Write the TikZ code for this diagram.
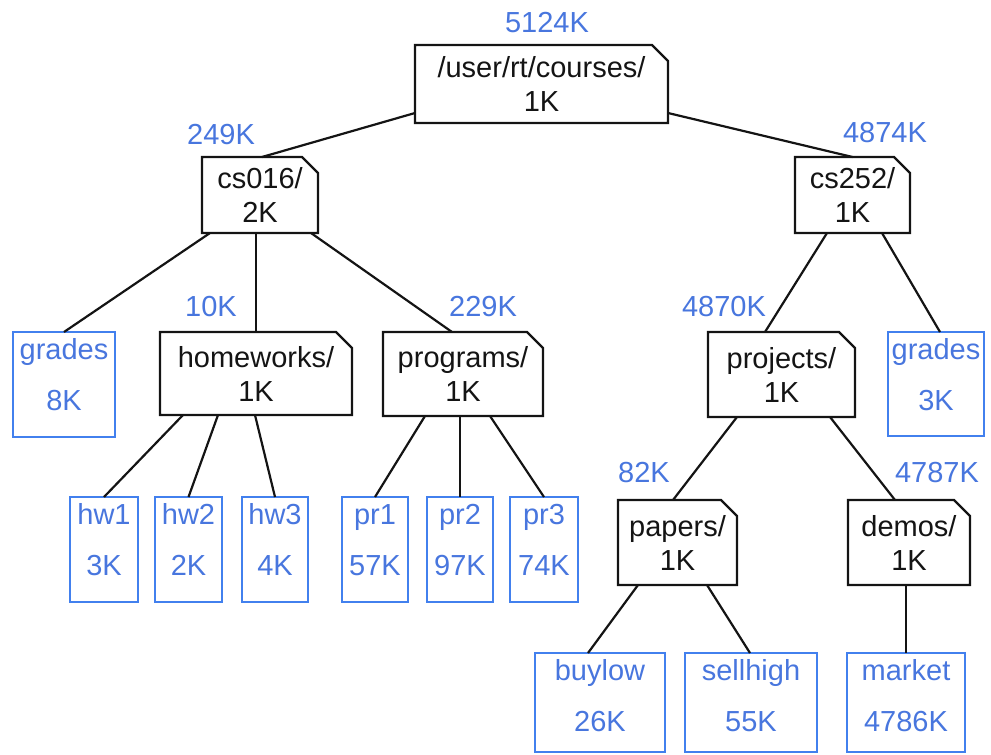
\documentclass[tikz,border=0pt]{standalone}
\usepackage{fontspec}
\setmainfont{Liberation Sans}
\usetikzlibrary{calc}
\definecolor{sizeblue}{RGB}{72,118,222}
\definecolor{boxblue}{RGB}{66,128,238}
\definecolor{ink}{RGB}{20,20,20}
\newcommand\FileBox[7]{%
  \node[filebox, minimum width=#4pt, minimum height=#5pt] (#1) at (#2,#3) {};
  \node[ftext] (#1-a) at ([yshift=-27pt]#1.north) {#6};
  \node[ftext] (#1-b) at ([yshift=-78pt]#1.north) {#7};}
\begin{document}
\begin{tikzpicture}[x=1pt,y=-1pt,
  folder/.style={rectangle, inner sep=0pt, outer sep=0pt, align=center,
    font=\fontsize{29}{34}\selectfont, text=ink},
  filebox/.style={rectangle, draw=boxblue, line width=2pt, inner sep=0pt, outer sep=0pt},
  ftext/.style={anchor=base, inner sep=0pt, text=sizeblue, font=\fontsize{29}{34}\selectfont},
  sizelab/.style={inner sep=0pt, text=sizeblue, font=\fontsize{29}{34}\selectfont},
  link/.style={draw=ink, line width=2.2pt},
  outline/.style={draw=ink, line width=2.4pt, line join=miter}]
\useasboundingbox (0,0) rectangle (991,755);

% folders
\node[folder, minimum width=253pt, minimum height=78pt] (root) at (541.5,84) {/user/rt/courses/\\1K};
\node[folder, minimum width=116pt, minimum height=76pt] (cs016) at (260,195) {cs016/\\2K};
\node[folder, minimum width=115pt, minimum height=76pt] (cs252) at (852.5,195) {cs252/\\1K};
\node[folder, minimum width=192pt, minimum height=83pt] (homeworks) at (256,373.5) {homeworks/\\1K};
\node[folder, minimum width=160pt, minimum height=84pt] (programs) at (463,374) {programs/\\1K};
\node[folder, minimum width=147pt, minimum height=85pt] (projects) at (781.5,374.5) {projects/\\1K};
\node[folder, minimum width=119pt, minimum height=85pt] (papers) at (677.5,542.5) {papers/\\1K};
\node[folder, minimum width=122pt, minimum height=85pt] (demos) at (909,542.5) {demos/\\1K};
\foreach \n in {root,cs016,cs252,homeworks,programs,projects,papers,demos}
  \draw[outline] (\n.north west) -- ([xshift=-16pt]\n.north east)
    -- ([yshift=-16pt]\n.north east) -- (\n.south east) -- (\n.south west) -- cycle;

% files
\FileBox{gradesL}{64}{384.5}{102}{105}{grades}{8K}
\FileBox{gradesR}{936}{384}{96}{104}{grades}{3K}
\FileBox{hw1}{104}{549.5}{68}{105}{hw1}{3K}
\FileBox{hw2}{188.5}{549.5}{67}{105}{hw2}{2K}
\FileBox{hw3}{275}{549.5}{66}{105}{hw3}{4K}
\FileBox{pr1}{375}{549.5}{66}{105}{pr1}{57K}
\FileBox{pr2}{460}{549.5}{66}{105}{pr2}{97K}
\FileBox{pr3}{544}{549.5}{68}{105}{pr3}{74K}
\FileBox{buylow}{600}{702.5}{130}{99}{buylow}{26K}
\FileBox{sellhigh}{751}{702.5}{132}{99}{sellhigh}{55K}
\FileBox{market}{906}{702.5}{118}{99}{market}{4786K}

% sizes
\node[sizelab] (s-root) at (547,23) {5124K};
\node[sizelab] (s-cs016) at (221,135) {249K};
\node[sizelab] (s-cs252) at (885,133) {4874K};
\node[sizelab] (s-hw) at (211,307) {10K};
\node[sizelab] (s-pr) at (483,307) {229K};
\node[sizelab] (s-proj) at (724,307) {4870K};
\node[sizelab] (s-pap) at (644,473) {82K};
\node[sizelab] (s-dem) at (937,473) {4787K};

% links
\draw[link] ([yshift=10pt]root.south west) -- ([xshift=2pt]cs016.north);
\draw[link] ([yshift=10pt]root.south east) -- (cs252.north);
\draw[link] ([xshift=-50pt]cs016.south) -- (gradesL.north);
\draw[link] ([xshift=-4pt]cs016.south) -- (homeworks.north);
\draw[link] ([xshift=-7pt]cs016.south east) -- ([xshift=-11pt]programs.north);
\draw[link] ([xshift=-73pt]homeworks.south) -- (hw1.north);
\draw[link] ([xshift=-38pt]homeworks.south) -- (hw2.north);
\draw[link] ([xshift=-1pt]homeworks.south) -- (hw3.north);
\draw[link] ([xshift=-38pt]programs.south) -- (pr1.north);
\draw[link] ([xshift=-3pt]programs.south) -- (pr2.north);
\draw[link] ([xshift=27pt]programs.south) -- (pr3.north);
\draw[link] ([xshift=-25.5pt]cs252.south) -- ([xshift=-16.5pt]projects.north);
\draw[link] ([xshift=29.5pt]cs252.south) -- ([xshift=4pt]gradesR.north);
\draw[link] ([xshift=-44.5pt]projects.south) -- ([xshift=-4.5pt]papers.north);
\draw[link] ([xshift=48.5pt]projects.south) -- ([xshift=-14pt]demos.north);
\draw[link] ([xshift=-39.5pt]papers.south) -- ([xshift=-12pt]buylow.north);
\draw[link] ([xshift=29.5pt]papers.south) -- ([xshift=-1pt]sellhigh.north);
\draw[link] ([xshift=-3pt]demos.south) -- (market.north);
\end{tikzpicture}
\end{document}
